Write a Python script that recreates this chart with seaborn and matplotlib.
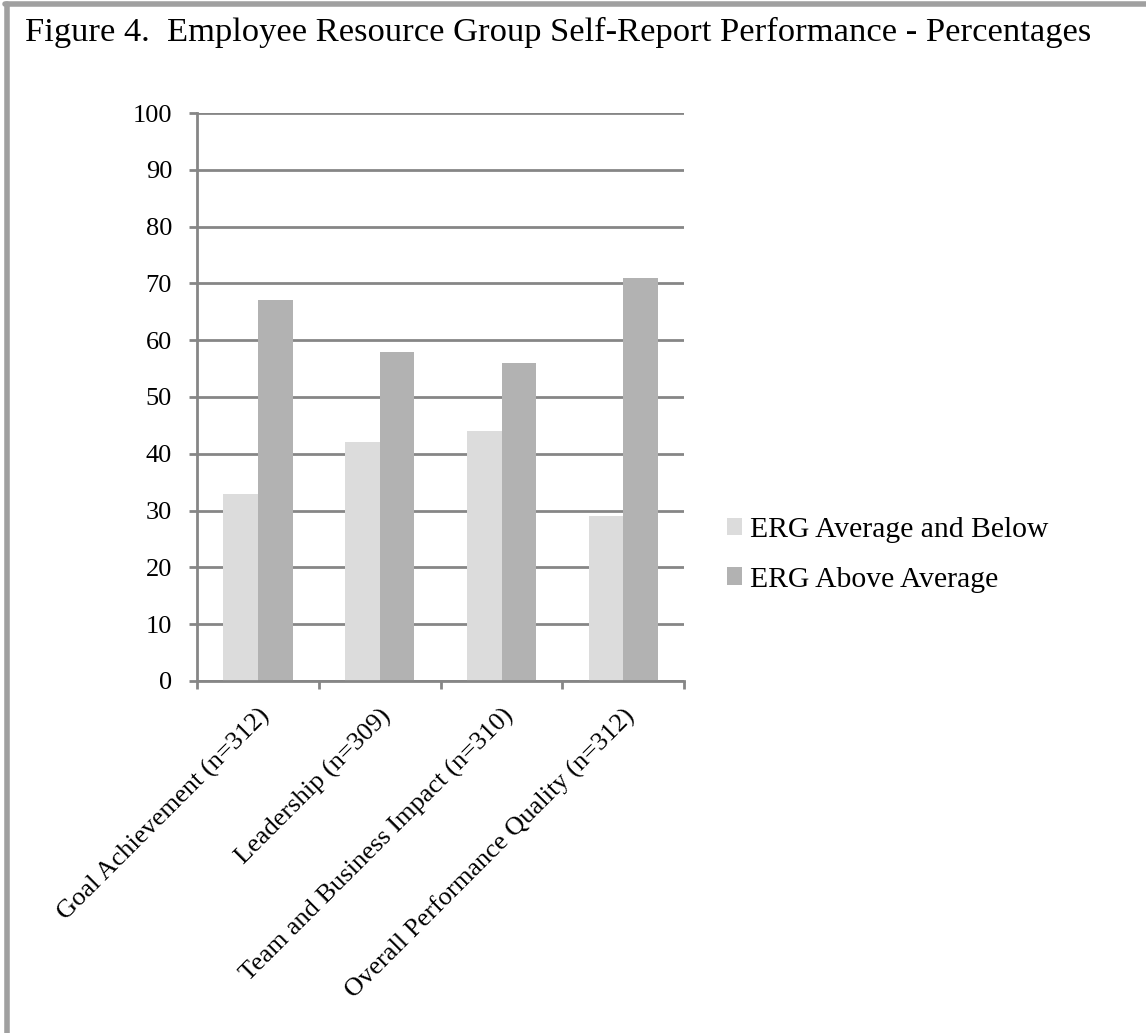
import pandas as pd
import matplotlib.pyplot as plt
from matplotlib.lines import Line2D
import seaborn as sns

sns.set_theme(style="white")
plt.rcParams["font.family"] = ["Liberation Serif", "DejaVu Serif"]

# data
categories = ["Goal Achievement (n=312)", "Leadership (n=309)",
              "Team and Business Impact (n=310)", "Overall Performance Quality (n=312)"]
below_avg = [33, 42, 44, 29]
above_avg = [67, 58, 56, 71]
series = ["ERG Average and Below", "ERG Above Average"]

df = pd.DataFrame({
    "category": categories * 2,
    "group":    [series[0]] * 4 + [series[1]] * 4,
    "value":    below_avg + above_avg,
})

grid_col = "#868686"
fig = plt.figure(figsize=(11.46, 10.33), dpi=100)
ax = fig.add_axes([0.172, 0.3408, 0.425, 0.5498])

sns.barplot(data=df, x="category", y="value", hue="group",
    palette=["#DCDCDC", "#B2B2B2"], width=0.57, gap=0,
    saturation=1, linewidth=0, ax=ax, legend=True)

ax.set_ylim(0, 100)
ax.set_xlim(-0.5, 3.5)
ax.set_yticks(range(0, 101, 10))
ax.yaxis.grid(True, color=grid_col, linewidth=2)
ax.set_axisbelow(True)
ax.set_xlabel("")
ax.set_ylabel("")

for side in ["top", "right"]:
    ax.spines[side].set_visible(False)
for side in ["left", "bottom"]:
    ax.spines[side].set_color(grid_col)
    ax.spines[side].set_linewidth(2)

ax.tick_params(axis="y", which="major", left=True, length=6, width=2,
    color=grid_col, labelsize=19, pad=12)
ax.set_xticks([-0.5, 0.5, 1.5, 2.5, 3.5], minor=True)
ax.tick_params(axis="x", which="minor", bottom=True, length=6, width=2,
    color=grid_col)
ax.tick_params(axis="x", which="major", bottom=False, labelsize=19, pad=11)
ax.set_xticks(range(len(categories)))
ax.set_xticklabels(categories, rotation=45, ha="right", rotation_mode="anchor")
for lab in ax.get_yticklabels() + ax.get_xticklabels():
    lab.set_color("black")

leg = ax.legend(loc="center left", bbox_to_anchor=(0.611, 0.463),
    bbox_transform=fig.transFigure, frameon=False, fontsize=21.3,
    handlelength=0.52, handleheight=0.52, handletextpad=0.28,
    labelspacing=0.8)
for t in leg.get_texts():
    t.set_color("black")

fig.text(0.022, 0.984, "Figure 4.  Employee Resource Group Self-Report Performance - Percentages",
    fontsize=24.8, va="top", ha="left", color="black")

# page frame visible on the left and top edges
fig.add_artist(Line2D([0.006, 0.006], [0, 0.996], transform=fig.transFigure,
    color="#A0A0A0", linewidth=4))
fig.add_artist(Line2D([0.0045, 1], [0.996, 0.996], transform=fig.transFigure,
    color="#A0A0A0", linewidth=4))

fig.savefig("out.png", dpi=100, facecolor="white")
